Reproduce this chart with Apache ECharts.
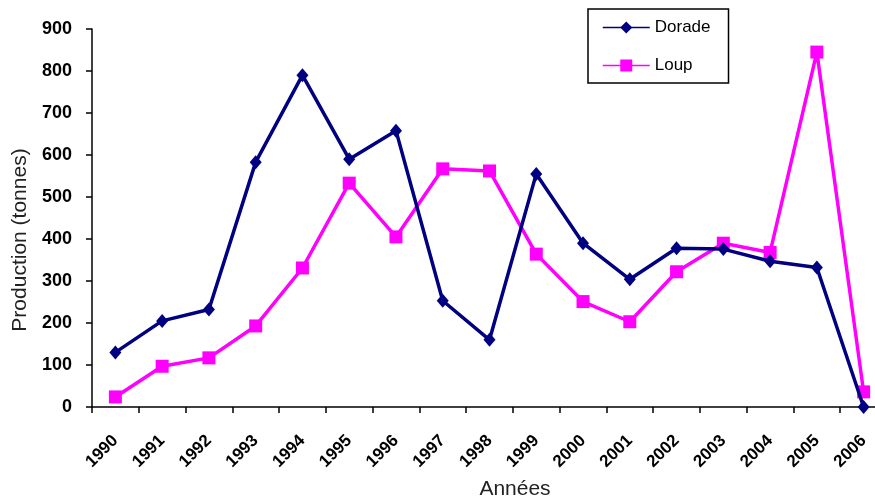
<!DOCTYPE html>
<html>
<head>
<meta charset="utf-8">
<script src="https://cdn.jsdelivr.net/npm/echarts@6/dist/echarts.min.js"></script>
<style>
  html, body { margin: 0; padding: 0; background: #ffffff; }
  #chart { width: 875px; height: 499px; }
</style>
</head>
<body>
<div id="chart"></div>
<script>
// Production annuelle (tonnes) par espèce
const annees = ['1990', '1991', '1992', '1993', '1994', '1995', '1996', '1997', '1998',
                '1999', '2000', '2001', '2002', '2003', '2004', '2005', '2006'];
const dorade = [130, 205, 232, 583, 790, 590, 658, 253, 160, 555, 390, 304, 378, 376, 347, 332, 0];
const loup   = [24, 97, 117, 193, 331, 533, 405, 567, 562, 364, 251, 203, 322, 390, 368, 845, 36];
const yTicks = { min: 0, max: 900, interval: 100 };

const chart = echarts.init(document.getElementById('chart'), null, { renderer: 'canvas' });

const axisLine = { show: true, lineStyle: { color: '#000000', width: 1.5 } };
const font = 'Liberation Sans, Arial, sans-serif';
const navy = '#000080';
const magenta = '#ff00ff';

chart.setOption({
  backgroundColor: '#ffffff',
  animation: false,
  grid: {
    left: 92, top: 29, right: -12, bottom: 92,
    containLabel: false,
    outerBoundsMode: 'none'
  },
  legend: {
    orient: 'vertical',
    left: 588,
    top: 9,
    padding: [10, 18, 9, 14],
    itemWidth: 47,
    itemHeight: 15,
    itemGap: 21,
    itemStyle: { borderWidth: 0 },
    borderColor: '#000000',
    borderWidth: 1.5,
    textStyle: { fontFamily: font, fontSize: 17, color: '#000000' },
    data: [
      { name: 'Dorade', lineStyle: { color: navy, width: 1.5 } },
      { name: 'Loup', lineStyle: { color: magenta, width: 1.5 } }
    ]
  },
  xAxis: {
    type: 'category',
    data: annees,
    boundaryGap: true,
    name: 'Années',
    nameLocation: 'middle',
    nameGap: 72,
    nameTextStyle: {
      fontFamily: font,
      fontSize: 21,
      color: '#222222',
      padding: [0, 0, 0, 51]
    },
    axisLine: axisLine,
    axisTick: { show: true, inside: false, length: 6, alignWithLabel: false, lineStyle: { color: '#000000', width: 1.5 } },
    axisLabel: {
      rotate: 45,
      margin: 31,
      interval: 0,
      fontFamily: font,
      fontWeight: 'bold',
      fontSize: 17,
      color: '#000000'
    },
    splitLine: { show: false }
  },
  yAxis: {
    type: 'value',
    min: yTicks.min,
    max: yTicks.max,
    interval: yTicks.interval,
    name: 'Production (tonnes)',
    nameLocation: 'middle',
    nameRotate: 90,
    nameGap: 60,
    nameTextStyle: {
      fontFamily: font,
      fontSize: 21,
      color: '#222222',
      padding: [0, 44, 0, 0]
    },
    axisLine: axisLine,
    axisTick: { show: true, inside: false, length: 6, lineStyle: { color: '#000000', width: 1.5 } },
    axisLabel: {
      margin: 20,
      fontFamily: font,
      fontWeight: 'bold',
      fontSize: 18,
      color: '#000000'
    },
    splitLine: { show: false }
  },
  series: [
    {
      name: 'Dorade',
      type: 'line',
      data: dorade,
      color: navy,
      symbol: 'diamond',
      symbolSize: [12, 14],
      lineStyle: { width: 3.5, color: navy },
      itemStyle: { color: navy },
      z: 3
    },
    {
      name: 'Loup',
      type: 'line',
      data: loup,
      color: magenta,
      symbol: 'rect',
      symbolSize: 13,
      lineStyle: { width: 3.5, color: magenta },
      itemStyle: { color: magenta },
      z: 2
    }
  ]
});
</script>
</body>
</html>
